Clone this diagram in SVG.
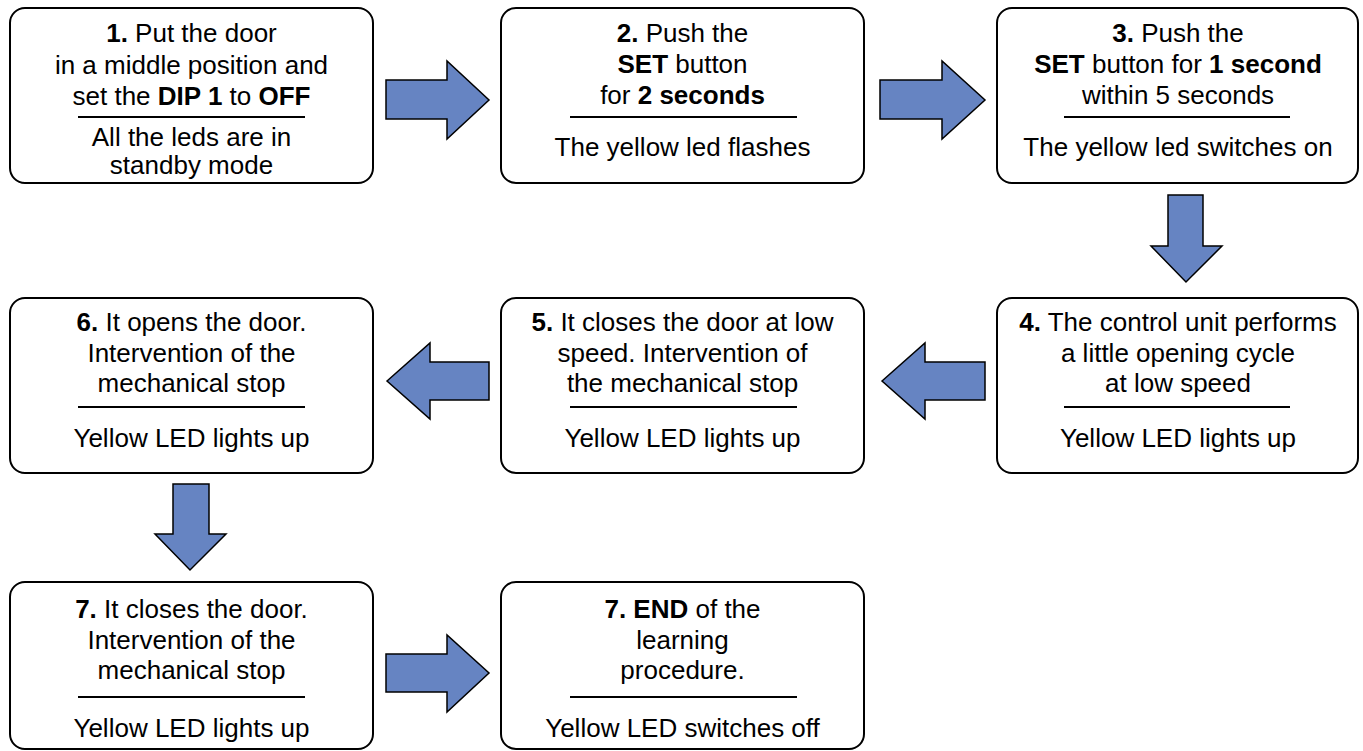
<svg xmlns="http://www.w3.org/2000/svg" width="1363" height="751" viewBox="0 0 1363 751">
<style>
.box{fill:#fff;stroke:#000;stroke-width:2}
.sep{stroke:#000;stroke-width:2}
.arr{fill:#6684c2;stroke:#000;stroke-width:1.5;stroke-linejoin:miter}
text{font-family:"Liberation Sans",Arial,Helvetica,sans-serif;font-size:26px;fill:#000;text-anchor:middle}
.b{font-weight:bold}
</style>
<rect width="1363" height="751" fill="#fff"/>
<g id="connectors">
<polygon class="arr" points="386,80 447,80 447,61 489,100 447,139 447,119 386,119"/>
<polygon class="arr" points="880,80 942,80 942,61 985,100 942,139 942,119 880,119"/>
<polygon class="arr" points="1168,195 1203,195 1203,246 1222,246 1186,282 1151,246 1168,246"/>
<polygon class="arr" points="387,381 430,343 430,362 489,362 489,400 430,400 430,419"/>
<polygon class="arr" points="882,381 925,343 925,362 985,362 985,400 925,400 925,419"/>
<polygon class="arr" points="173,484 209,484 209,534 226,534 190,570 155,534 173,534"/>
<polygon class="arr" points="386,654 447,654 447,635 489,673 447,712 447,692 386,692"/>
</g>
<g id="n1">
<rect class="box" x="10" y="8" width="363" height="175" rx="15"/>
<text x="191.5" y="42"><tspan class="b">1.</tspan> Put the door</text>
<text x="191.5" y="74">in a middle position and</text>
<text x="191.5" y="105">set the <tspan class="b">DIP 1</tspan> to <tspan class="b">OFF</tspan></text>
<line class="sep" x1="78" y1="117" x2="305" y2="117"/>
<text x="191.5" y="146">All the leds are in</text>
<text x="191.5" y="174">standby mode</text>
</g>
<g id="n2">
<rect class="box" x="501" y="8" width="363" height="175" rx="15"/>
<text x="682.5" y="42"><tspan class="b">2.</tspan> Push the</text>
<text x="682.5" y="73"><tspan class="b">SET</tspan> button</text>
<text x="682.5" y="104">for <tspan class="b">2 seconds</tspan></text>
<line class="sep" x1="570" y1="117" x2="797" y2="117"/>
<text x="682.5" y="156">The yellow led flashes</text>
</g>
<g id="n3">
<rect class="box" x="997" y="8" width="361" height="175" rx="15"/>
<text x="1178" y="42"><tspan class="b">3.</tspan> Push the</text>
<text x="1178" y="73"><tspan class="b">SET</tspan> button for <tspan class="b">1 second</tspan></text>
<text x="1178" y="104">within 5 seconds</text>
<line class="sep" x1="1064" y1="117" x2="1290" y2="117"/>
<text x="1178" y="156">The yellow led switches on</text>
</g>
<g id="n4">
<rect class="box" x="997" y="298" width="361" height="175" rx="15"/>
<text x="1178" y="331"><tspan class="b">4.</tspan> The control unit performs</text>
<text x="1178" y="362">a little opening cycle</text>
<text x="1178" y="392">at low speed</text>
<line class="sep" x1="1064" y1="407" x2="1290" y2="407"/>
<text x="1178" y="447">Yellow LED lights up</text>
</g>
<g id="n5">
<rect class="box" x="501" y="298" width="363" height="175" rx="15"/>
<text x="682.5" y="331"><tspan class="b">5.</tspan> It closes the door at low</text>
<text x="682.5" y="362">speed. Intervention of</text>
<text x="682.5" y="392">the mechanical stop</text>
<line class="sep" x1="570" y1="407" x2="797" y2="407"/>
<text x="682.5" y="447">Yellow LED lights up</text>
</g>
<g id="n6">
<rect class="box" x="10" y="298" width="363" height="175" rx="15"/>
<text x="191.5" y="331"><tspan class="b">6.</tspan> It opens the door.</text>
<text x="191.5" y="362">Intervention of the</text>
<text x="191.5" y="392">mechanical stop</text>
<line class="sep" x1="78" y1="407" x2="305" y2="407"/>
<text x="191.5" y="447">Yellow LED lights up</text>
</g>
<g id="n7">
<rect class="box" x="10" y="582" width="363" height="167" rx="15"/>
<text x="191.5" y="618"><tspan class="b">7.</tspan> It closes the door.</text>
<text x="191.5" y="649">Intervention of the</text>
<text x="191.5" y="679">mechanical stop</text>
<line class="sep" x1="78" y1="697" x2="305" y2="697"/>
<text x="191.5" y="737">Yellow LED lights up</text>
</g>
<g id="n8">
<rect class="box" x="501" y="582" width="363" height="167" rx="15"/>
<text x="682.5" y="618"><tspan class="b">7. END</tspan> of the</text>
<text x="682.5" y="649">learning</text>
<text x="682.5" y="679">procedure.</text>
<line class="sep" x1="570" y1="697" x2="797" y2="697"/>
<text x="682.5" y="737">Yellow LED switches off</text>
</g>
</svg>
